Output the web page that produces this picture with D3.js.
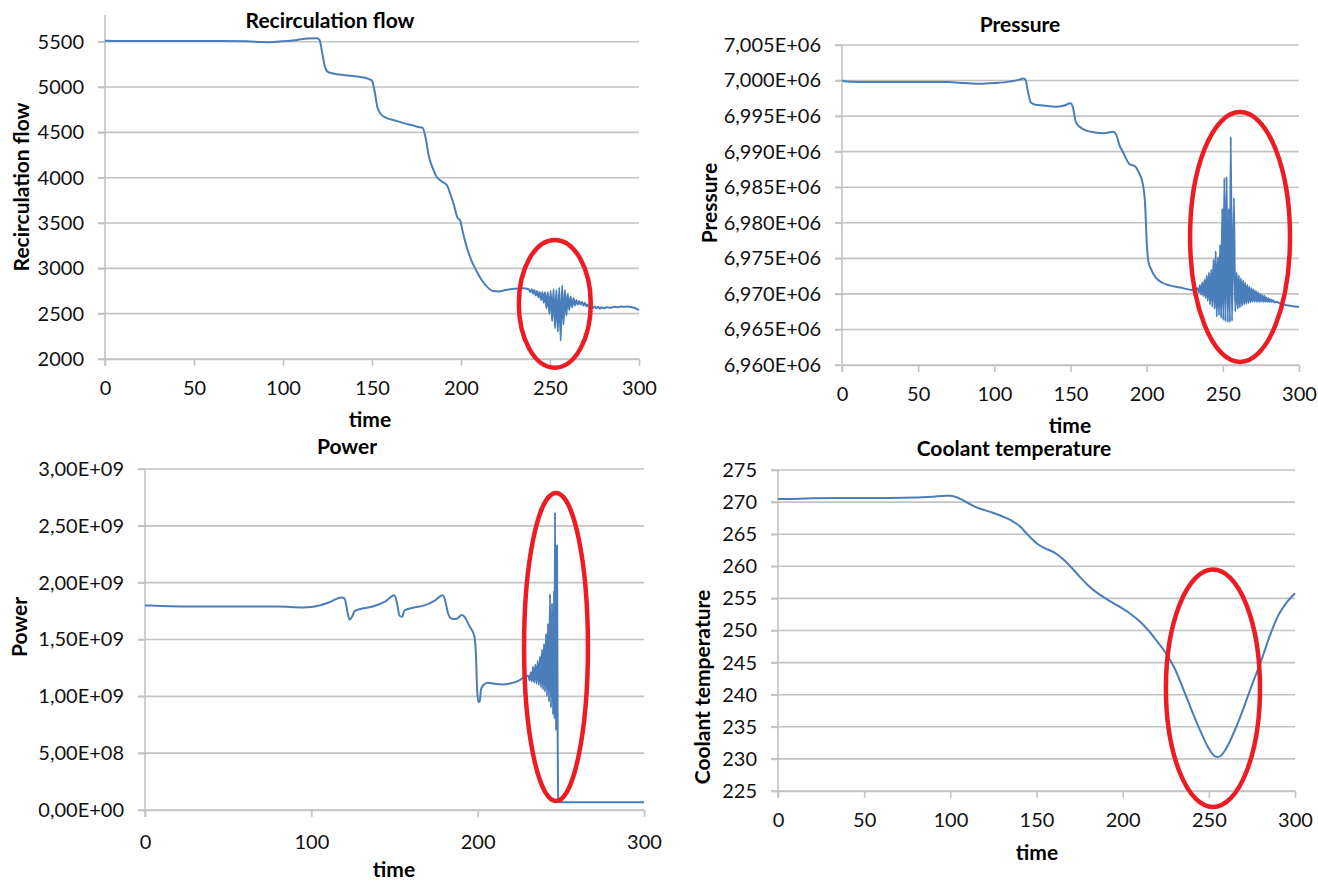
<!DOCTYPE html>
<html>
<head>
<meta charset="utf-8">
<script src="https://cdn.jsdelivr.net/npm/d3@7"></script>
<style>
  body { margin: 0; background: #fff; }
  svg { display: block; font-family: Lato, "Open Sans", sans-serif; }
</style>
</head>
<body>
<svg id="chart" width="1318" height="883"></svg>
<script>
// values, [time, value]
var flowData = [[0,5510],[10,5508],[30,5508],[60,5508],[80,5505],[88,5496],[92,5495],[100,5505],[108,5520],[114,5535],[119,5538],
  [120.5,5520],[122,5380],[123.5,5230],[125,5170],[128,5150],[135,5130],[142,5115],[148,5090],[150,5070],[151.5,4950],[153,4780],
  [155,4700],[158,4660],[163,4630],[170,4590],[176,4560],[178.5,4550],[180,4450],[182,4230],[184,4110],[186,4020],[189,3960],
  [192,3920],[194,3820],[196,3700],[198,3560],[199.5,3530],[201,3400],[203,3250],[206,3080],[209,2960],[212,2860],[215,2790],
  [218,2750],[221,2745],[225,2760],[230,2775],[235,2780],[238,2770],[239,2740],[239.7,2770],[240.5,2720],[241.2,2760],[242,2700],
  [242.7,2750],[243.5,2680],[244.2,2740],[245,2650],[245.7,2740],[246.5,2620],[247.2,2740],[248,2560],[248.8,2740],[249.6,2500],
  [250.4,2750],[251.2,2420],[252,2770],[252.8,2340],[253.6,2760],[254.4,2300],[255.2,2790],[256,2200],[256.8,2810],[257.6,2380],
  [258.4,2760],[259.2,2480],[260,2720],[260.8,2540],[261.6,2690],[262.4,2570],[263.2,2670],[264,2590],[264.8,2650],[265.6,2600],
  [266.4,2640],[267.2,2600],[268,2630],[268.8,2590],[269.6,2620],[270.4,2580],[271.2,2600],[272,2570],[273,2590],[274,2560],
  [275,2580],[276,2560],[277,2575],[278,2555],[279,2570],[280,2560],[282,2570],[284,2565],[286,2575],[288,2570],[290,2580],
  [292,2575],[294,2580],[296,2570],[298,2560],[300,2540]];

var pressureData = [[0,7000000],[3,6999850],[10,6999800],[40,6999800],[70,6999780],[80,6999650],[90,6999550],[100,6999650],
  [110,6999850],[116,7000100],[119,7000300],[120.5,7000100],[122,6998500],[124,6996900],[127,6996600],[132,6996500],[140,6996300],
  [146,6996500],[150,6996800],[151.5,6996300],[153.5,6994200],[156,6993500],[160,6993000],[166,6992700],[172,6992600],[178,6992800],
  [180,6992400],[182,6991000],[185,6989700],[189,6988200],[192,6988000],[195,6987000],[197.5,6985400],[199,6982500],[200,6977500],
  [201,6974700],[203,6973400],[206,6972300],[210,6971600],[215,6971200],[222,6970900],[228,6970600],[232,6970500],
  [233.5,6970800],[234.2,6970200],[235,6971200],[235.7,6969900],[236.5,6971600],[237.2,6969700],[238,6972000],[238.7,6969400],
  [239.4,6972600],[240.1,6969000],[240.9,6973000],[241.6,6968500],[242.4,6973400],[243.1,6968200],[243.9,6974800],[244.6,6967900],
  [245.3,6976000],[246,6966800],[246.8,6975200],[247.5,6967000],[248.2,6976900],[248.9,6966600],[249.6,6982000],[250.3,6966300],
  [251,6986300],[251.7,6966100],[252.5,6986500],[253.2,6966000],[254,6982000],[254.6,6966000],[255.2,6992100],[256,6966200],
  [257.3,6983500],[258.1,6967500],[259.1,6973000],[259.8,6967900],[260.5,6972600],[261.2,6968100],[261.9,6972200],[262.6,6968300],
  [263.3,6971900],[264,6968500],[264.7,6971600],[265.4,6968600],[266.1,6971300],[266.8,6968700],[267.5,6971000],[268.2,6968800],
  [268.9,6970800],[269.6,6968900],[270.3,6970600],[271,6968900],[271.7,6970400],[272.4,6968900],[273.1,6970200],[273.8,6968900],
  [274.5,6970000],[275.2,6968900],[275.9,6969800],[276.6,6968900],[277.3,6969700],[278,6968900],[278.7,6969500],[279.4,6968900],
  [280.1,6969400],[280.8,6968900],[281.5,6969200],[282.2,6968850],[283,6969100],[284,6968800],[285,6968900],[288,6968600],
  [292,6968400],[296,6968250],[300,6968150]];

var powerData = [[0,1.80e9],[10,1.795e9],[30,1.79e9],[80,1.79e9],[95,1.782e9],[100,1.785e9],[105,1.80e9],[112,1.835e9],
  [118,1.87e9],[120,1.86e9],[121.5,1.76e9],[123,1.675e9],[124.5,1.70e9],[126,1.75e9],[130,1.77e9],[137,1.79e9],[144,1.83e9],
  [150,1.89e9],[151.5,1.82e9],[153,1.71e9],[154.5,1.70e9],[156,1.755e9],[161,1.78e9],[168,1.80e9],[174,1.84e9],[179,1.89e9],
  [180.5,1.84e9],[182,1.74e9],[184,1.685e9],[187,1.68e9],[190.5,1.715e9],[192,1.70e9],[195,1.62e9],[198,1.53e9],[199,1.35e9],
  [199.7,1.05e9],[200.5,0.95e9],[201.3,0.96e9],[202,1.06e9],[203.5,1.10e9],[206,1.12e9],[210,1.11e9],[215,1.105e9],[220,1.115e9],
  [225,1.14e9],[228,1.17e9],[230.5,1.18e9],[231.2,1.14e9],[231.9,1.21e9],[232.6,1.13e9],[233.3,1.26e9],[234,1.12e9],[234.7,1.28e9],
  [235.4,1.11e9],[236.1,1.31e9],[236.8,1.10e9],[237.5,1.35e9],[238.1,1.08e9],[238.7,1.41e9],[239.3,1.06e9],[239.9,1.46e9],
  [240.5,1.04e9],[241.1,1.55e9],[241.7,1.00e9],[242.3,1.64e9],[242.9,0.95e9],[243.5,1.90e9],[244.1,0.90e9],[244.7,1.82e9],
  [245.3,0.84e9],[245.9,1.93e9],[246.2,0.80e9],[246.5,2.62e9],[247.1,0.70e9],[247.7,2.33e9],[248.1,0.62e9],[248.5,0.075e9],
  [249,0.068e9],[270,0.068e9],[300,0.068e9]];

var coolantData = [[0,270.5],[10,270.5],[20,270.6],[35,270.65],[50,270.65],[65,270.65],[80,270.7],[90,270.85],[97,271.0],
  [100,271.0],[105,270.6],[110,269.9],[115,269.2],[120,268.75],[125,268.3],[130,267.8],[135,267.2],[140,266.3],[145,264.9],
  [150,263.6],[155,262.8],[160,262.2],[165,261.2],[170,259.9],[175,258.4],[180,257.0],[185,255.9],[190,255.0],[195,254.2],
  [200,253.4],[205,252.5],[210,251.4],[215,250.0],[220,248.3],[225,246.5],[230,244.2],[235,241.0],[240,237.6],[245,234.4],
  [250,231.6],[253,230.5],[255,230.3],[257,230.5],[260,231.6],[265,234.4],[270,237.8],[275,241.5],[280,245.0],[285,248.9],
  [290,252.2],[295,254.3],[300,255.8]];

var timeTicks50 = [0, 50, 100, 150, 200, 250, 300];
var timeTicks100 = [0, 100, 200, 300];
var flowTicks = [2000, 2500, 3000, 3500, 4000, 4500, 5000, 5500];
var pressureTicks = [6960000, 6965000, 6970000, 6975000, 6980000, 6985000, 6990000, 6995000, 7000000, 7005000];
var powerTicks = [0, 5e8, 1e9, 1.5e9, 2e9, 2.5e9, 3e9];
var coolantTicks = [225, 230, 235, 240, 245, 250, 255, 260, 265, 270, 275];

// red highlight ellipses: centre [time, value], radii [time, value]
var flowMark = [252.7, 2609, 20.2, 705];
var pressureMark = [261.3, 6978000, 32.8, 17575];
var powerMark = [247.1, 1.434e9, 19.2, 1.355e9];
var coolantMark = [252.4, 241.0, 27.3, 18.5];

function sci(digits) {
  return function (d) {
    var p = d.toExponential(digits).split("e");
    var e = +p[1];
    return p[0].replace(".", ",") + "E" + (e < 0 ? "-" : "+") + String(Math.abs(e)).padStart(2, "0");
  };
}

var chart = d3.select("#chart");

function drawPanel(c) {
  var x = d3.scaleLinear().domain([0, 300]).range([c.left, c.right]);
  var y = d3.scaleLinear().domain(c.yDomain).range([c.bottom, c.top]);
  var g = chart.append("g");

  // gridlines
  g.selectAll("line.grid").data(c.yTicks).enter().append("line")
    .attr("x1", c.left - 7).attr("x2", c.right)
    .attr("y1", d => y(d)).attr("y2", d => y(d))
    .attr("stroke", "#c3c3c3").attr("stroke-width", 1.6);

  var ya = g.append("g").attr("transform", "translate(" + c.left + ",0)")
    .call(d3.axisLeft(y).tickValues(c.yTicks).tickFormat(c.yFormat).tickSize(7).tickSizeOuter(0).tickPadding(14));
  var xa = g.append("g").attr("transform", "translate(0," + c.bottom + ")")
    .call(d3.axisBottom(x).tickValues(c.xTicks).tickSize(7).tickSizeOuter(0).tickPadding(c.xPad));
  [ya, xa].forEach(function (a) {
    a.selectAll("path, line").attr("stroke", "#c3c3c3").attr("stroke-width", 1.6);
    a.selectAll("text").attr("fill", "#111").style("font-size", "20px").style("font-family", "Lato, sans-serif");
  });
  ya.select("path.domain").remove();
  g.append("line").attr("x1", c.left).attr("x2", c.left)
    .attr("y1", c.axisTop).attr("y2", c.bottom + 7)
    .attr("stroke", "#c3c3c3").attr("stroke-width", 1.6);

  g.append("path").datum(c.data)
    .attr("fill", "none").attr("stroke", "#4a7ebb").attr("stroke-width", 2)
    .attr("stroke-linejoin", "round")
    .attr("d", d3.line().x(d => x(d[0])).y(d => y(d[1])).curve(d3.curveMonotoneX));

  var m = c.mark;
  g.append("ellipse")
    .attr("cx", x(m[0])).attr("cy", y(m[1]))
    .attr("rx", x(m[0] + m[2]) - x(m[0])).attr("ry", y(m[1]) - y(m[1] + m[3]))
    .attr("fill", "none").attr("stroke", "#ec1c24").attr("stroke-width", 4.5);

  g.append("text").attr("x", c.titlePos[0]).attr("y", c.titlePos[1])
    .attr("text-anchor", "middle").attr("dominant-baseline", "central")
    .style("font-size", "21px").style("font-weight", "bold").text(c.title);
  g.append("text").attr("x", c.xLabelPos[0]).attr("y", c.xLabelPos[1])
    .attr("text-anchor", "middle").attr("dominant-baseline", "central")
    .style("font-size", "21px").style("font-weight", "bold").text("time");
  g.append("text")
    .attr("transform", "translate(" + c.yLabelPos[0] + "," + c.yLabelPos[1] + ") rotate(-90)")
    .attr("text-anchor", "middle").attr("dominant-baseline", "central")
    .style("font-size", "21px").style("font-weight", "bold").text(c.yLabel);
}

drawPanel({
  left: 105, right: 639, top: 41.7, bottom: 359, axisTop: 15, xPad: 15,
  yDomain: [2000, 5500], yTicks: flowTicks, yFormat: d3.format("d"), xTicks: timeTicks50,
  data: flowData, mark: flowMark,
  title: "Recirculation flow", titlePos: [330, 19], xLabelPos: [370, 418],
  yLabel: "Recirculation flow", yLabelPos: [20, 187]
});
drawPanel({
  left: 842, right: 1299, top: 45, bottom: 365, axisTop: 45, xPad: 15,
  yDomain: [6960000, 7005000], yTicks: pressureTicks, yFormat: sci(3), xTicks: timeTicks50,
  data: pressureData, mark: pressureMark,
  title: "Pressure", titlePos: [1020, 23], xLabelPos: [1070, 424],
  yLabel: "Pressure", yLabelPos: [708, 203]
});
drawPanel({
  left: 145, right: 644, top: 469, bottom: 810, axisTop: 469, xPad: 18,
  yDomain: [0, 3e9], yTicks: powerTicks, yFormat: sci(2), xTicks: timeTicks100,
  data: powerData, mark: powerMark,
  title: "Power", titlePos: [347, 445], xLabelPos: [394, 868],
  yLabel: "Power", yLabelPos: [18, 627]
});
drawPanel({
  left: 778, right: 1295, top: 470, bottom: 791, axisTop: 470, xPad: 15,
  yDomain: [225, 275], yTicks: coolantTicks, yFormat: d3.format("d"), xTicks: timeTicks50,
  data: coolantData, mark: coolantMark,
  title: "Coolant temperature", titlePos: [1014, 447], xLabelPos: [1037, 851],
  yLabel: "Coolant temperature", yLabelPos: [701, 687]
});
</script>
</body>
</html>
